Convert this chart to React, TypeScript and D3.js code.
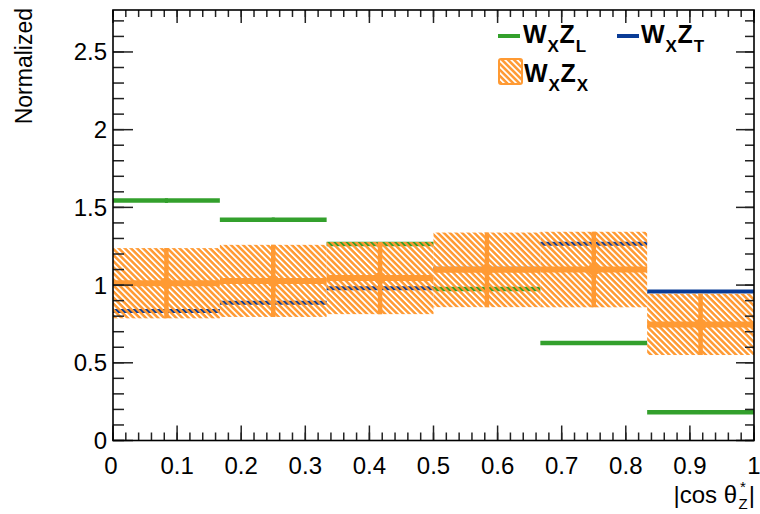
import React from "react";
import * as d3 from "d3";

// Bin edges in |cos θ*_Z|
const binEdges = [0, 0.1667, 0.3333, 0.5, 0.6667, 0.8333, 1];

// Normalized distributions per bin
const longitudinal = [1.544, 1.42, 1.265, 0.975, 0.628, 0.182];
const longitudinalErr = [0.009, 0.008, 0.006, 0.006, 0.005, 0.003];
const transverse = [0.833, 0.887, 0.98, 1.105, 1.266, 0.958];
const mixed = [1.012, 1.027, 1.045, 1.098, 1.1, 0.747];
const mixedErr = [0.226, 0.232, 0.232, 0.24, 0.243, 0.197];

const xMajorTicks = [0, 0.1, 0.2, 0.3, 0.4, 0.5, 0.6, 0.7, 0.8, 0.9, 1];
const yMajorTicks = [0, 0.5, 1, 1.5, 2, 2.5];
const xTickLabels = ["0", "0.1", "0.2", "0.3", "0.4", "0.5", "0.6", "0.7", "0.8", "0.9", "1"];
const yTickLabels = ["0", "0.5", "1", "1.5", "2", "2.5"];

const GREEN = "#33a02c";
const BLUE = "#0a3c96";
const ORANGE = "#ff9a33";
const FONT = "'Liberation Sans', Arial, Helvetica, sans-serif";

const W = 760;
const H = 514;
const left = 113;
const right = 754;
const top = 10;
const bottom = 440.5;

function LegendLabel({ x, y, sub2 }: { x: number; y: number; sub2: string }) {
  return (
    <text x={x} y={y} fontSize={25} letterSpacing={0.8}>
      W<tspan fontSize={17} dy={9}>X</tspan>
      <tspan fontSize={25} dy={-9}>Z</tspan>
      <tspan fontSize={17} dy={9}>{sub2}</tspan>
    </text>
  );
}

export default function App() {
  const x = d3.scaleLinear().domain([0, 1]).range([left, right]);
  const y = d3.scaleLinear().domain([0, 2.77]).range([bottom, top]);

  const xMinor = d3.range(0, 1.0001, 0.02).map((v) => +v.toFixed(2));
  const yMinor = d3.range(0, 2.7001, 0.1).map((v) => +v.toFixed(1));

  const bins = mixed.map((_, i) => ({ lo: binEdges[i], hi: binEdges[i + 1], mid: (binEdges[i] + binEdges[i + 1]) / 2 }));

  return (
    <svg
      width={W}
      height={H}
      style={{ position: "absolute", left: 0, top: 0, background: "#fff" }}
      fontFamily={FONT}
    >
      <defs>
        <pattern id="hatch" width="4.3" height="4.3" patternUnits="userSpaceOnUse" patternTransform="rotate(45)">
          <rect x="0" y="0" width="4.3" height="2.5" fill={ORANGE} />
        </pattern>
        <clipPath id="frame">
          <rect x={left} y={top} width={right - left} height={bottom - top} />
        </clipPath>
      </defs>
      <rect x={0} y={0} width={W} height={H} fill="#fff" />

      <g clipPath="url(#frame)">
        {/* longitudinal and transverse templates */}
        {bins.map((b, i) => (
          <g key={"l" + i}>
            <line x1={x(b.lo)} x2={x(b.hi)} y1={y(longitudinal[i])} y2={y(longitudinal[i])} stroke={GREEN} strokeWidth={4.5} />
            <line
              x1={x(b.mid)}
              x2={x(b.mid)}
              y1={y(longitudinal[i] + longitudinalErr[i]) - 1}
              y2={y(longitudinal[i] - longitudinalErr[i]) + 1}
              stroke={GREEN}
              strokeWidth={3}
            />
          </g>
        ))}
        {bins.map((b, i) => (
          <line key={"t" + i} x1={x(b.lo)} x2={x(b.hi)} y1={y(transverse[i])} y2={y(transverse[i])} stroke={BLUE} strokeWidth={4} />
        ))}

        {/* mixed template uncertainty band */}
        {bins.map((b, i) => (
          <rect
            key={"h" + i}
            x={x(b.lo)}
            width={x(b.hi) - x(b.lo)}
            y={y(mixed[i] + mixedErr[i])}
            height={y(mixed[i] - mixedErr[i]) - y(mixed[i] + mixedErr[i])}
            fill="url(#hatch)"
          />
        ))}

        {/* mixed template central values */}
        {bins.map((b, i) => (
          <g key={"m" + i}>
            <line x1={x(b.lo)} x2={x(b.hi)} y1={y(mixed[i])} y2={y(mixed[i])} stroke={ORANGE} strokeWidth={6} />
            <line
              x1={x(b.mid)}
              x2={x(b.mid)}
              y1={y(mixed[i] + mixedErr[i])}
              y2={y(mixed[i] - mixedErr[i])}
              stroke={ORANGE}
              strokeWidth={4.5}
            />
            <circle cx={x(b.mid)} cy={y(mixed[i])} r={6} fill={ORANGE} />
          </g>
        ))}
      </g>

      {/* ticks on all four sides */}
      <g stroke="#222" strokeWidth={1.5}>
        {xMinor.map((v) => (
          <g key={"xm" + v}>
            <line x1={x(v)} x2={x(v)} y1={bottom} y2={bottom - 8} />
            <line x1={x(v)} x2={x(v)} y1={top} y2={top + 7} />
          </g>
        ))}
        {xMajorTicks.map((v) => (
          <g key={"xM" + v}>
            <line x1={x(v)} x2={x(v)} y1={bottom} y2={bottom - 15} />
            <line x1={x(v)} x2={x(v)} y1={top} y2={top + 13} />
          </g>
        ))}
        {yMinor.map((v) => (
          <g key={"ym" + v}>
            <line x1={left} x2={left + 11} y1={y(v)} y2={y(v)} />
            <line x1={right} x2={right - 9} y1={y(v)} y2={y(v)} />
          </g>
        ))}
        {yMajorTicks.map((v) => (
          <g key={"yM" + v}>
            <line x1={left} x2={left + 20} y1={y(v)} y2={y(v)} />
            <line x1={right} x2={right - 18} y1={y(v)} y2={y(v)} />
          </g>
        ))}
      </g>

      {/* frame */}
      <rect x={left} y={top} width={right - left} height={bottom - top} fill="none" stroke="#000" strokeWidth={1.6} />

      {/* tick labels */}
      <g fontSize={24} fill="#000">
        {xMajorTicks.map((v, i) => (
          <text key={"xl" + v} x={x(v) + (i === 0 ? -2 : 0)} y={474} textAnchor="middle">
            {xTickLabels[i]}
          </text>
        ))}
        {yMajorTicks.map((v, i) => (
          <text key={"yl" + v} x={left - 6} y={y(v) + 8.5} textAnchor="end">
            {yTickLabels[i]}
          </text>
        ))}
      </g>

      {/* axis titles */}
      <text transform={`translate(32, 8) rotate(-90)`} textAnchor="end" fontSize={23} fill="#000">
        Normalized
      </text>
      <g fill="#000">
        <text x={737} y={503} textAnchor="end" fontSize={24}>|cos θ</text>
        <text x={743} y={492} textAnchor="middle" fontSize={15}>*</text>
        <text x={743} y={509} textAnchor="middle" fontSize={15}>Z</text>
        <text x={755} y={503} textAnchor="end" fontSize={24}>|</text>
      </g>

      {/* legend */}
      <g fontWeight="bold" fill="#000">
        <line x1={498} x2={520} y1={36} y2={36} stroke={GREEN} strokeWidth={4} />
        <LegendLabel x={523} y={43} sub2="L" />
        <line x1={617} x2={639} y1={36} y2={36} stroke={BLUE} strokeWidth={4} />
        <LegendLabel x={641} y={43} sub2="T" />
        <rect x={499} y={59} width={23} height={25} rx={2} fill="url(#hatch)" stroke={ORANGE} strokeWidth={2} />
        <LegendLabel x={524} y={82} sub2="X" />
      </g>
    </svg>
  );
}
